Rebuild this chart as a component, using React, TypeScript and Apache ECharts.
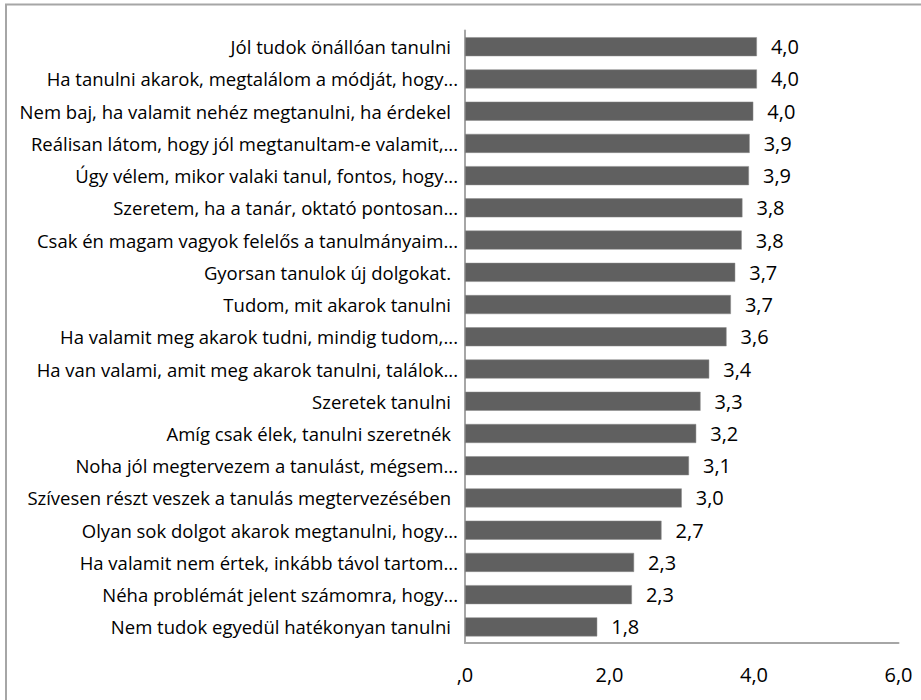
import React, { useEffect, useRef } from "react";
import * as echarts from "echarts";

const categories: string[] = [
  "Jól tudok önállóan tanulni ",
  "Ha tanulni akarok, megtalálom a módját, hogy...",
  "Nem baj, ha valamit nehéz megtanulni, ha érdekel ",
  "Reálisan látom, hogy jól megtanultam-e valamit,...",
  "Úgy vélem, mikor valaki tanul, fontos, hogy...",
  "Szeretem, ha a tanár, oktató pontosan...",
  "Csak én magam vagyok felelős a tanulmányaim...",
  "Gyorsan tanulok új dolgokat. ",
  "Tudom, mit akarok tanulni ",
  "Ha valamit meg akarok tudni, mindig tudom,...",
  "Ha van valami, amit meg akarok tanulni, találok...",
  "Szeretek tanulni ",
  "Amíg csak élek, tanulni szeretnék ",
  "Noha jól megtervezem a tanulást, mégsem...",
  "Szívesen részt veszek a tanulás megtervezésében ",
  "Olyan sok dolgot akarok megtanulni, hogy...",
  "Ha valamit nem értek, inkább távol tartom...",
  "Néha problémát jelent számomra, hogy...",
  "Nem tudok egyedül hatékonyan tanulni ",
];

const values: number[] = [
  4.04, 4.04, 3.99, 3.94, 3.93, 3.84, 3.83, 3.74, 3.68, 3.62, 3.38, 3.26, 3.2,
  3.1, 3.0, 2.72, 2.34, 2.31, 1.83,
];

const xTicks: number[] = [0, 2, 4, 6];

const fmt = (v: number): string => {
  const s = v.toFixed(1).replace(".", ",");
  return s.startsWith("0,") ? s.slice(1) : s;
};

export default function App() {
  const ref = useRef<HTMLDivElement>(null);
  useEffect(() => {
    if (!ref.current) return;
    const chart = echarts.init(ref.current, undefined, { renderer: "svg" });
    const font = "'Open Sans', 'Noto Sans', sans-serif";
    chart.setOption({
      animation: false,
      backgroundColor: "#ffffff",
      graphic: [
        {
          type: "rect",
          shape: { x: 6, y: 4.5, width: 940, height: 720 },
          style: { fill: "none", stroke: "#a6a6a6", lineWidth: 2 },
          silent: true,
          z: 100,
        },
      ],
      grid: { left: 465, right: 22.5, top: 30.6, bottom: 57, containLabel: false },
      xAxis: {
        type: "value",
        min: xTicks[0],
        max: xTicks[xTicks.length - 1],
        interval: 2,
        splitLine: { show: false },
        axisLine: { show: true, lineStyle: { color: "#a6a6a6", width: 2 } },
        axisTick: { show: false },
        axisLabel: {
          margin: 21,
          fontFamily: font,
          fontSize: 20,
          color: "#000000",
          formatter: (v: number) => fmt(v),
        },
      },
      yAxis: {
        type: "category",
        inverse: true,
        data: categories,
        axisLine: { show: true, lineStyle: { color: "#a6a6a6", width: 2 } },
        axisTick: { show: false },
        splitLine: { show: false },
        axisLabel: {
          margin: 7,
          fontFamily: font,
          fontSize: 18.5,
          color: "#000000",
          formatter: (v: string) =>
            v.endsWith(" ") ? "{p|" + v.trimEnd() + "}" : v,
          rich: {
            p: {
              fontFamily: font,
              fontSize: 18.5,
              color: "#000000",
              padding: [0, 7, 0, 0],
            },
          },
        },
      },
      series: [
        {
          type: "bar",
          data: values,
          barWidth: 19,
          itemStyle: { color: "#606060", borderColor: "#8a8a8a", borderWidth: 0.5 },
          label: {
            show: true,
            position: "right",
            distance: 14,
            fontFamily: font,
            fontSize: 20,
            color: "#000000",
            formatter: (p: any) => fmt(p.value),
          },
        },
      ],
    });
    return () => chart.dispose();
  }, []);
  return (
    <div
      ref={ref}
      style={{ position: "fixed", left: 0, top: 0, width: 921, height: 700 }}
    />
  );
}
